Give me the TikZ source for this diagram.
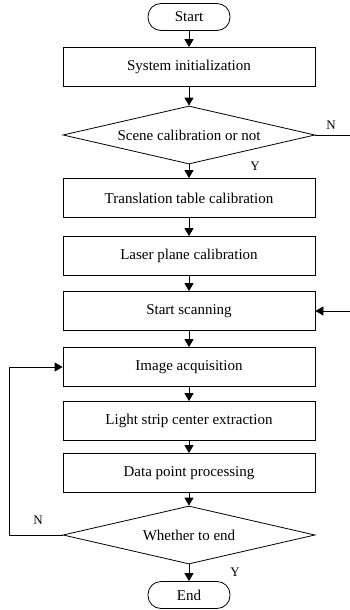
\documentclass[tikz,border=0pt]{standalone}
\usepackage{fontspec}
\setmainfont{Liberation Serif}
\usetikzlibrary{shapes.geometric, arrows.meta, positioning}

\tikzset{
  proc/.style={rectangle, draw, minimum width=252pt, minimum height=39pt, inner sep=0pt},
  term/.style={rectangle, draw, rounded corners=13pt, minimum width=82pt, minimum height=27pt, inner sep=0pt},
  decide/.style={diamond, draw, aspect=4.34, minimum width=252pt, minimum height=58pt, inner sep=0pt},
  flow/.style={-{Triangle[length=8pt,width=9pt]}},
  lbl/.style={font=\fontsize{13}{15}\selectfont}
}

\begin{document}
\begin{tikzpicture}[x=1pt, y=-1pt, line width=0.8pt, font=\fontsize{15}{18}\selectfont]
  \useasboundingbox (0,0) rectangle (350,610);
  \node[term] (Start) at (189,17) {Start};
  \node[proc] (Init) at (189,67) {System initialization};
  \node[decide] (Scene) at (189,135) {Scene calibration or not};
  \node[proc] (Trans) at (189,198) {Translation table calibration};
  \node[proc] (Laser) at (189,256) {Laser plane calibration};
  \node[proc] (Scan) at (189,311) {Start scanning};
  \node[proc] (Acq) at (189,367) {Image acquisition};
  \node[proc] (Strip) at (189,421) {Light strip center extraction};
  \node[proc] (Data) at (189,473) {Data point processing};
  \node[decide] (Whether) at (189,535) {Whether to end};
  \node[term] (End) at (189,595) {End};
  \coordinate (SceneOut) at (350,135);
  \coordinate (ScanIn) at (350,311);
  \coordinate (Back) at (9,535);
  \draw[flow] (Start) -- (Init);
  \draw[flow] (Init) -- (Scene);
  \draw[flow] (Scene) -- (Trans);
  \draw[flow] (Trans) -- (Laser);
  \draw[flow] (Laser) -- (Scan);
  \draw[flow] (Scan) -- (Acq);
  \draw[flow] (Acq) -- (Strip);
  \draw[flow] (Strip) -- (Data);
  \draw[flow] (Data) -- (Whether);
  \draw[flow] (Whether) -- (End);
  \draw (Scene.east) -- (SceneOut);
  \draw[flow] (ScanIn) -- (Scan.east);
  \draw[flow] (Whether.west) -- (Back) |- (Acq.west);
  % branch labels
  \node[lbl] (SceneNo) at (331,125) {N};
  \node[lbl] (SceneYes) at (255,166) {Y};
  \node[lbl] (EndNo) at (38,520) {N};
  \node[lbl] (EndYes) at (235,572) {Y};
\end{tikzpicture}
\end{document}
